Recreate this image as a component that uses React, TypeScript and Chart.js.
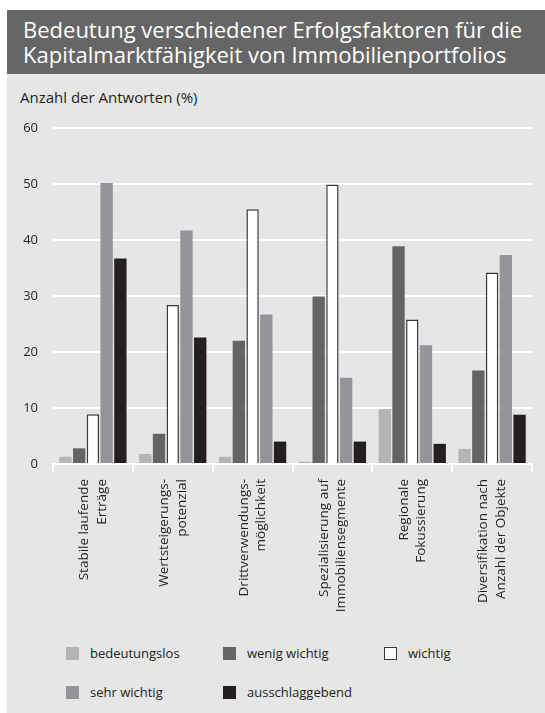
import React, { useEffect, useRef } from "react";
import { Chart, registerables } from "chart.js";

Chart.register(...registerables);

const TITLE_LINES = [
  "Bedeutung verschiedener Erfolgsfaktoren für die",
  "Kapitalmarktfähigkeit von Immobilienportfolios",
];
const Y_TITLE = "Anzahl der Antworten (%)";

const categories: string[][] = [
  ["Stabile laufende", "Erträge"],
  ["Wertsteigerungs-", "potenzial"],
  ["Drittverwendungs-", "möglichkeit"],
  ["Spezialisierung auf", "Immobiliensegmente"],
  ["Regionale", "Fokussierung"],
  ["Diversifikation nach", "Anzahl der Objekte"],
];

const seriesNames = ["bedeutungslos", "wenig wichtig", "wichtig", "sehr wichtig", "ausschlaggebend"];

const bedeutungslos = [1.3, 1.8, 1.3, 0.4, 9.8, 2.7];
const wenigWichtig = [2.8, 5.4, 22.0, 29.9, 38.9, 16.7];
const wichtig = [8.9, 28.4, 45.5, 49.9, 25.8, 34.2];
const sehrWichtig = [50.2, 41.7, 26.7, 15.4, 21.2, 37.3];
const ausschlaggebend = [36.7, 22.6, 4.0, 4.0, 3.6, 8.8];

const Y_MIN = 0;
const Y_MAX = 60;
const Y_STEP = 10;

const fills = ["#b2b4b6", "#636466", "#ffffff", "#949598", "#231f20"];
const borders = ["#b2b4b6", "#636466", "#3a3a3a", "#949598", "#231f20"];

const FONT = "'Open Sans', 'Noto Sans', sans-serif";
const TEXT = "#231f20";
const GRID = "#ffffff";

export default function App() {
  const canvasRef = useRef<HTMLCanvasElement | null>(null);

  useEffect(() => {
    const canvas = canvasRef.current;
    if (!canvas) return;
    const values = [bedeutungslos, wenigWichtig, wichtig, sehrWichtig, ausschlaggebend];
    const chart = new Chart(canvas, {
      type: "bar",
      data: {
        labels: categories,
        datasets: seriesNames.map((name, i) => ({
          label: name,
          data: values[i],
          backgroundColor: fills[i],
          borderColor: borders[i],
          borderWidth: i === 2 ? 1.5 : 0,
          categoryPercentage: 0.86,
          barPercentage: 0.9,
        })),
      },
      options: {
        responsive: false,
        animation: false,
        layout: { padding: { top: 18, right: 13, left: 0, bottom: 0 } },
        plugins: {
          legend: { display: false },
          tooltip: { enabled: false },
          title: { display: false },
        },
        scales: {
          x: {
            offset: true,
            afterFit: (scale: any) => {
              scale.height = 166;
              scale.paddingLeft = 0;
              scale.paddingRight = 0;
            },
            grid: {
              display: true,
              offset: true,
              drawOnChartArea: false,
              drawTicks: true,
              tickLength: 8,
              color: GRID,
              lineWidth: 2,
            },
            border: { display: true, color: GRID, width: 2 },
            ticks: {
              color: TEXT,
              font: { family: FONT, size: 13.5, lineHeight: 1.3 },
              minRotation: 90,
              maxRotation: 90,
              padding: 7,
              labelOffset: -8.5,
              autoSkip: false,
            },
          },
          y: {
            min: Y_MIN,
            max: Y_MAX,
            afterFit: (scale: any) => {
              scale.width = 46;
              scale.paddingTop = 0;
              scale.paddingBottom = 0;
            },
            grid: {
              display: true,
              drawOnChartArea: true,
              color: GRID,
              lineWidth: 2,
              drawTicks: false,
            },
            border: { display: false },
            ticks: {
              stepSize: Y_STEP,
              color: TEXT,
              font: { family: FONT, size: 13 },
              padding: 15,
            },
          },
        },
      },
    });
    return () => chart.destroy();
  }, []);

  const legendCols = [59, 216, 377];
  const legendRows = [637, 676];

  return (
    <div
      style={{
        position: "fixed",
        left: 7,
        top: 10,
        width: 538,
        height: 703,
        background: "#e6e6e6",
        fontFamily: FONT,
        color: TEXT,
        overflow: "hidden",
      }}
    >
      <div
        style={{
          position: "absolute",
          left: 0,
          top: 0,
          width: 538,
          height: 64,
          background: "#666666",
          color: "#ffffff",
          fontSize: 22,
          lineHeight: "25px",
          paddingLeft: 16,
          paddingTop: 7,
          boxSizing: "border-box",
          whiteSpace: "nowrap",
        }}
      >
        {TITLE_LINES.map((t, i) => (
          <div key={i}>{t}</div>
        ))}
      </div>
      <div
        style={{
          position: "absolute",
          left: 13,
          top: 79,
          fontSize: 15,
          lineHeight: "16px",
          whiteSpace: "nowrap",
        }}
      >
        {Y_TITLE}
      </div>
      <canvas
        ref={canvasRef}
        width={538}
        height={520}
        style={{ position: "absolute", left: 0, top: 100, width: 538, height: 520 }}
      />
      {seriesNames.map((name, i) => {
        const col = i % 3;
        const row = Math.floor(i / 3);
        return (
          <div
            key={name}
            style={{
              position: "absolute",
              left: legendCols[col],
              top: legendRows[row],
              height: 13,
              display: "flex",
              alignItems: "center",
              whiteSpace: "nowrap",
            }}
          >
            <span
              style={{
                display: "inline-block",
                width: 13,
                height: 13,
                boxSizing: "border-box",
                background: fills[i],
                border: i === 2 ? "1px solid #3a3a3a" : "none",
                marginRight: 11,
              }}
            />
            <span style={{ fontSize: 13, lineHeight: "13px" }}>{name}</span>
          </div>
        );
      })}
    </div>
  );
}
